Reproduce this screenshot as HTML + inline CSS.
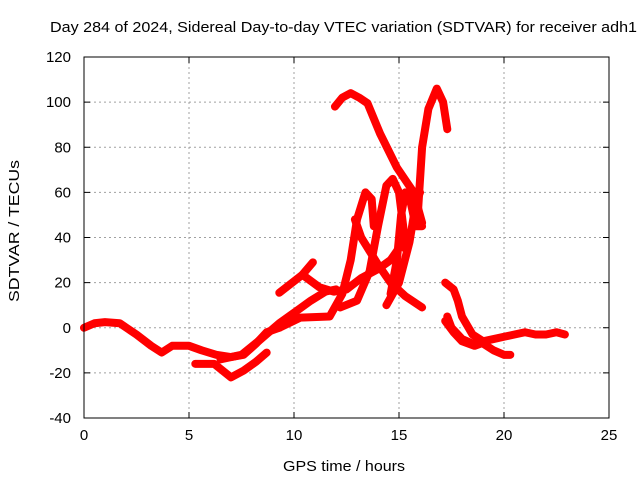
<!DOCTYPE html>
<html><head><meta charset="utf-8"><style>
body{margin:0;background:#fff;}
svg{display:block;font-family:"Liberation Sans",sans-serif;}
</style></head><body>
<svg id="chart" width="640" height="480">
<text x="50" y="32" font-size="15" textLength="587" lengthAdjust="spacingAndGlyphs">Day 284 of 2024, Sidereal Day-to-day VTEC variation (SDTVAR) for receiver adh1</text>
<text x="283" y="471" font-size="15" textLength="122" lengthAdjust="spacingAndGlyphs">GPS time / hours</text>
<text transform="translate(19,302) rotate(-90)" font-size="15" textLength="142" lengthAdjust="spacingAndGlyphs">SDTVAR / TECUs</text>
<g id="grid"></g><g id="ticks"></g><g id="series"></g>
<rect x="84" y="57" width="525" height="361" fill="none" stroke="#000" stroke-width="1"/>
</svg>
<script>
const xTicks=[0,5,10,15,20,25];
const yTicks=[-40,-20,0,20,40,60,80,100,120];
const trackA=[[0,0],[0.5,2],[1,2.5],[1.7,2],[2.5,-3],[3.2,-8],[3.7,-11],[4.2,-8],[5,-8],[5.6,-10],[6.3,-12],[7,-13],[7.6,-12],[8.2,-7],[8.7,-2],[9.3,0]];
const trackB=[[9.3,0],[10.3,4.5],[11.7,5],[12.3,15],[12.7,30],[13,48],[13.4,60],[13.7,57],[13.8,45]];
const trackC=[[9.3,15.5],[10.4,23.5],[10.9,29]];
const trackC2=[[10.4,23.5],[11.2,18],[11.9,16],[12.5,17],[13.2,22],[14,26],[14.6,30],[15.2,38]];
const trackD=[[12.9,48],[13.2,40],[14,28],[14.6,20],[15.3,14],[16.1,9]];
const trackE=[[11.95,98],[12.3,102],[12.7,104],[13.1,102],[13.5,99.5],[14.1,86],[14.9,71],[15.7,60],[16.1,46.5]];
const trackF=[[15.9,51],[16.1,80],[16.4,97],[16.8,106],[17.1,100],[17.3,88]];
const trackG=[[12.2,9],[13,12],[13.6,25],[14,45],[14.4,63],[14.7,66],[15,60],[15.2,45],[15.3,35]];
const trackH=[[14.4,10],[15,20],[15.5,38],[15.8,55],[16,60]];
const trackI=[[14.6,15],[14.9,30],[15.1,50],[15.3,60],[15.5,58],[15.8,45],[16.1,45]];
const trackS2=[[5.3,-16],[6.2,-16],[6.6,-19],[7,-22],[7.6,-19],[8.2,-15],[8.7,-11]];
const trackS3=[[6.5,-14],[7.5,-12],[8.3,-6],[9.3,2],[10.2,8],[10.8,12],[11.5,16],[12,17]];
const trackJ=[[17.2,20],[17.6,17],[17.8,12],[18,5],[18.5,-3],[19,-6],[19.5,-5],[20,-4],[20.5,-3],[21,-2],[21.5,-3],[22,-3],[22.5,-2],[22.9,-3]];
const trackK=[[17.3,5],[17.5,0],[18,-5],[18.5,-7],[19,-7],[19.5,-10],[20,-12],[20.3,-12]];
const trackL=[[17.2,3],[17.6,-2],[18,-6],[18.6,-8],[19.2,-6]];
const allTracks=[trackA,trackB,trackC,trackC2,trackD,trackE,trackF,trackG,trackH,trackI,trackS2,trackS3,trackJ,trackK,trackL];
const X0=84,X1=609,Y0=418,Y1=57;
function sx(v){return X0+(v-0)/(25-0)*(X1-X0);}
function sy(v){return Y0-(v+40)/(160)*(Y0-Y1);}
const NS="http://www.w3.org/2000/svg";
const grid=document.getElementById('grid'),ticks=document.getElementById('ticks'),ser=document.getElementById('series');
function mk(tag,attrs,parent){const e=document.createElementNS(NS,tag);for(const k in attrs)e.setAttribute(k,attrs[k]);parent.appendChild(e);return e;}
xTicks.forEach(t=>{const x=sx(t);
 if(t>0&&t<25){const g=mk('line',{x1:x,x2:x,y1:Y1,y2:Y0,stroke:'#a0a0a0','stroke-dasharray':'2,3'},grid);
 
 }
 mk('line',{x1:x,x2:x,y1:Y0,y2:Y0-6,stroke:'#000'},ticks);mk('line',{x1:x,x2:x,y1:Y1,y2:Y1+6,stroke:'#000'},ticks);
 const l=mk('text',{x:x,y:Y0+22,'font-size':15,'text-anchor':'middle'},ticks);l.textContent=t;
 
 });
yTicks.forEach(t=>{const y=sy(t);
 if(t>-40&&t<120){const g=mk('line',{x1:X0,x2:X1,y1:y,y2:y,stroke:'#a0a0a0','stroke-dasharray':'2,3'},grid);
 
 }
 mk('line',{x1:X0,x2:X0+6,y1:y,y2:y,stroke:'#000'},ticks);mk('line',{x1:X1,x2:X1-6,y1:y,y2:y,stroke:'#000'},ticks);
 const l=mk('text',{x:X0-13,y:y+5,'font-size':15,'text-anchor':'end'},ticks);l.textContent=t;
 
 });
allTracks.forEach(tr=>{
 const p=mk('polyline',{points:tr.map(d=>sx(d[0])+','+sy(d[1])).join(' '),fill:'none',stroke:'#ff0000','stroke-width':8,'stroke-linejoin':'round','stroke-linecap':'round'},ser);
 
 
});
</script>
</body></html>
